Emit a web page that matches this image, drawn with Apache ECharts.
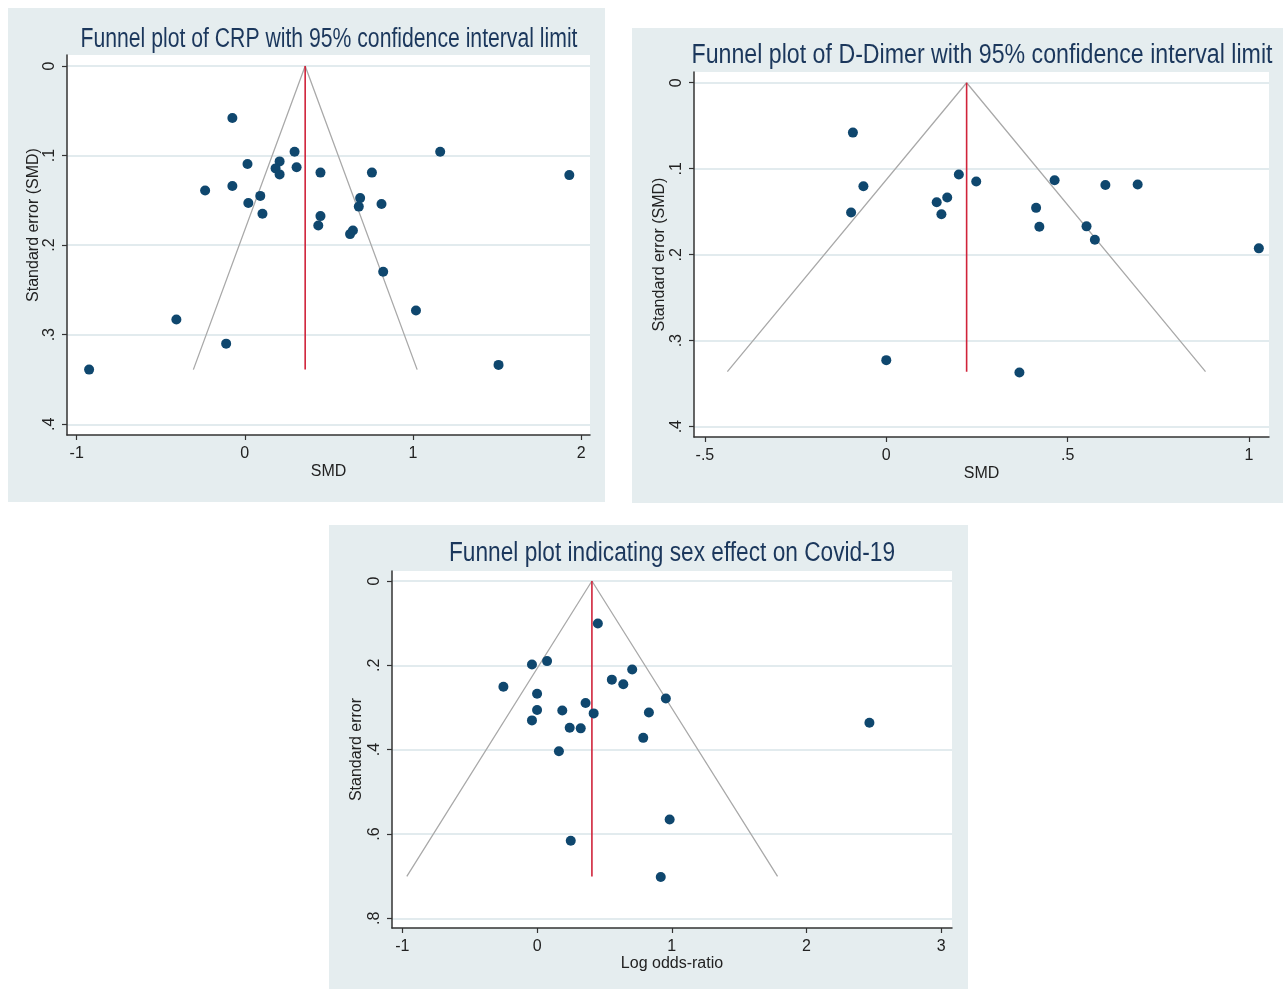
<!DOCTYPE html>
<html>
<head>
<meta charset="utf-8">
<title>Funnel plots</title>
<script src="https://cdn.jsdelivr.net/npm/echarts@6/dist/echarts.min.js"></script>
<style>
  html, body { margin: 0; padding: 0; background: #ffffff; }
  #chart { width: 1283px; height: 989px; }
</style>
</head>
<body>
<div id="chart"></div>
<script>
// ---- CRP panel ----
const crpSmd = [-0.074, 1.162, 0.296, 0.016, 0.207, 0.183, 0.207, 0.308, 0.450, 0.756,
  1.930, -0.236, -0.074, 0.092, 0.021, 0.105, 0.686, 0.678, 0.813, 0.450,
  0.437, 0.643, 0.626, 0.823, 1.018, -0.407, -0.111, -0.926, 1.509]
const crpSe = [0.058, 0.0957, 0.0957, 0.1095, 0.1065, 0.1143, 0.121, 0.113, 0.119, 0.119,
  0.1218, 0.139, 0.134, 0.145, 0.153, 0.165, 0.1475, 0.157, 0.154, 0.1676,
  0.178, 0.1836, 0.1877, 0.2298, 0.273, 0.283, 0.310, 0.339, 0.3337]
const crpPooled = 0.359
const crpFunnelSe = 0.339
const crpFunnelLo = -0.306
const crpFunnelHi = 1.025
const crpXTicks = [-1, 0, 1, 2]
const crpYTicks = [0, 0.1, 0.2, 0.3, 0.4]

// ---- D-Dimer panel ----
const ddSmd = [-0.092, 0.200, 0.248, 0.464, 0.604, 0.693, -0.063, 0.168, 0.139, 0.152,
  -0.097, 0.413, 0.422, 0.552, 0.575, 1.027, 0.000, 0.367]
const ddSe = [0.058, 0.1068, 0.1149, 0.1133, 0.119, 0.1184, 0.1203, 0.1335, 0.139, 0.153,
  0.151, 0.1455, 0.1675, 0.167, 0.1826, 0.1926, 0.3226, 0.337]
const ddPooled = 0.2215
const ddFunnelSe = 0.336
const ddFunnelLo = -0.438
const ddFunnelHi = 0.880
const ddXTicks = [-0.5, 0, 0.5, 1]
const ddYTicks = [0, 0.1, 0.2, 0.3, 0.4]

// ---- sex effect panel ----
const sexLogOr = [0.451, 0.074, -0.038, 0.706, 0.555, 0.640, -0.250, 0.000, 0.956, 0.360,
  0.000, 0.187, 0.420, 0.830, -0.038, 0.242, 0.324, 2.467, 0.788, 0.162,
  0.984, 0.250, 0.918]
const sexSe = [0.101, 0.190, 0.198, 0.210, 0.234, 0.245, 0.251, 0.2675, 0.2785, 0.2895,
  0.306, 0.307, 0.314, 0.312, 0.3306, 0.348, 0.3495, 0.336, 0.372, 0.404,
  0.5657, 0.616, 0.702]
const sexPooled = 0.407
const sexFunnelSe = 0.7006
const sexFunnelLo = -0.967
const sexFunnelHi = 1.785
const sexXTicks = [-1, 0, 1, 2, 3]
const sexYTicks = [0, 0.2, 0.4, 0.6, 0.8]

// colours
const NAVY = '#0f476e'
const TITLE = '#1b375c'
const PANEL = '#e5edef'
const GRIDLINE = '#d8e5e9'
const AXIS = '#333333'
const FONT = '"Liberation Sans", Arial, sans-serif'

// Stata style labels: .1 instead of 0.1
const stata = v => {
  if (v === 0) return '0'
  return String(+v.toFixed(3)).replace(/^(-?)0\./, '$1.')
}

// squeeze titles to the width they have in the picture
const ctx = document.createElement('canvas').getContext('2d')
const fitX = (text, font, w) => {
  ctx.font = font
  return w / ctx.measureText(text).width
}

const titleText = (text, x, y, w) => {
  const font = '27px ' + FONT
  return {
    type: 'text', x: x, y: y, scaleX: fitX(text, font, w), z: 10,
    style: { text: text, font: font, fill: TITLE, align: 'center', verticalAlign: 'middle' }
  }
}

const xAxisOf = (idx, min, max, ticks, name, gap) => ({
  type: 'value', gridIndex: idx, min: min, max: max,
  name: name, nameLocation: 'middle', nameGap: gap,
  nameTextStyle: { fontSize: 16, color: '#222', fontFamily: FONT },
  axisLine: { onZero: false, lineStyle: { color: AXIS, width: 1.5 } },
  axisTick: { customValues: ticks, length: 5, lineStyle: { color: AXIS, width: 1.2 } },
  axisLabel: { customValues: ticks, formatter: stata, fontSize: 16, color: '#222', fontFamily: FONT, margin: 11 },
  splitLine: { show: false }
})

const yAxisOf = (idx, min, max, ticks, name, gap, pad) => ({
  type: 'value', gridIndex: idx, min: min, max: max, inverse: true,
  name: name, nameLocation: 'middle', nameGap: gap, nameRotate: 90,
  nameTextStyle: { fontSize: 16, color: '#222', fontFamily: FONT, padding: pad || 0 },
  axisLine: { onZero: false, lineStyle: { color: AXIS, width: 1.5 } },
  axisTick: { customValues: ticks, length: 5, lineStyle: { color: AXIS, width: 1.2 } },
  axisLabel: { customValues: ticks, formatter: stata, rotate: 90, fontSize: 16, color: '#222', fontFamily: FONT, margin: 9 },
  splitLine: { show: true, lineStyle: { color: GRIDLINE, width: 1.5 } }
})

const zip = (a, b) => a.map((v, i) => [v, b[i]])

const panelSeries = (idx, xs, ys, pooled, seMax, lo, hi) => [
  {
    type: 'line', xAxisIndex: idx, yAxisIndex: idx, symbol: 'none', silent: true,
    lineStyle: { color: '#a9a9a9', width: 1.3 },
    data: [[lo, seMax], [pooled, 0], [hi, seMax]], z: 2
  },
  {
    type: 'line', xAxisIndex: idx, yAxisIndex: idx, symbol: 'none', silent: true,
    lineStyle: { color: '#d0233a', width: 1.6 },
    data: [[pooled, 0], [pooled, seMax]], z: 3
  },
  {
    type: 'scatter', xAxisIndex: idx, yAxisIndex: idx, symbolSize: 10,
    itemStyle: { color: NAVY, opacity: 1 },
    data: zip(xs, ys), z: 4
  }
]

const chart = echarts.init(document.getElementById('chart'))
chart.setOption({
  animation: false,
  graphic: [
    { type: 'rect', shape: { x: 8, y: 8, width: 597, height: 494 }, style: { fill: PANEL }, z: -100 },
    { type: 'rect', shape: { x: 632, y: 28, width: 651, height: 475 }, style: { fill: PANEL }, z: -100 },
    { type: 'rect', shape: { x: 329, y: 525, width: 639, height: 464 }, style: { fill: PANEL }, z: -100 },
    titleText('Funnel plot of CRP with 95% confidence interval limit', 329, 40, 497),
    titleText('Funnel plot of D-Dimer with 95% confidence interval limit', 982, 56, 581),
    titleText('Funnel plot indicating sex effect on Covid-19', 672, 554, 446)
  ],
  grid: [
    { left: 67, top: 55, width: 523, height: 380, show: true, backgroundColor: '#ffffff', borderWidth: 0 },
    { left: 694, top: 72, width: 575, height: 365, show: true, backgroundColor: '#ffffff', borderWidth: 0 },
    { left: 392, top: 571, width: 560, height: 357, show: true, backgroundColor: '#ffffff', borderWidth: 0 }
  ],
  xAxis: [
    xAxisOf(0, -1.0575, 2.053, crpXTicks, 'SMD', 29),
    xAxisOf(1, -0.53, 1.055, ddXTicks, 'SMD', 29),
    xAxisOf(2, -1.077, 3.08, sexXTicks, 'Log odds-ratio', 28)
  ],
  yAxis: [
    yAxisOf(0, -0.0123, 0.412, crpYTicks, 'Standard error (SMD)', 19, [0, 0, 0, 40]),
    yAxisOf(1, -0.0125, 0.412, ddYTicks, 'Standard error (SMD)', 26),
    yAxisOf(2, -0.0237, 0.823, sexYTicks, 'Standard error', 27)
  ],
  series: [
    ...panelSeries(0, crpSmd, crpSe, crpPooled, crpFunnelSe, crpFunnelLo, crpFunnelHi),
    ...panelSeries(1, ddSmd, ddSe, ddPooled, ddFunnelSe, ddFunnelLo, ddFunnelHi),
    ...panelSeries(2, sexLogOr, sexSe, sexPooled, sexFunnelSe, sexFunnelLo, sexFunnelHi)
  ]
})
</script>
</body>
</html>
